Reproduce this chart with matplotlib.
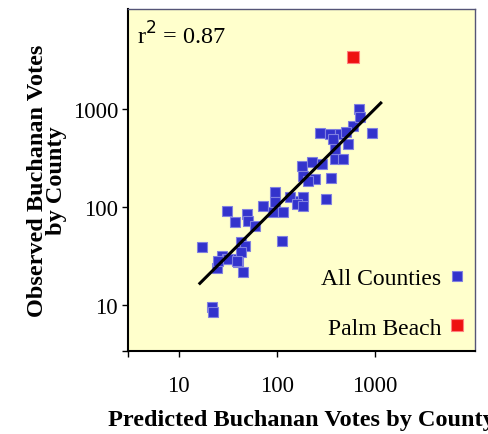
import matplotlib
matplotlib.use("Agg")
import matplotlib.pyplot as plt

# Florida counties: predicted vs observed Buchanan votes
predicted = [17.2, 21.6, 22.1, 24.3, 27.3, 30.7, 35.8, 40.3, 45.3, 43.6,
             47.1, 43.6, 31.1, 37.2, 49.1, 51.0, 59.7, 72.5, 95.4, 95.4,
             91.7, 116, 114, 136, 172, 185, 179, 226, 185, 244,
             286, 314, 353, 391, 468, 391, 275, 347, 440, 534,
             601, 692, 703, 931, 375, 25.2, 31.8, 161, 38.8, 207,
             514, 185]
observed = [38.8, 9.5, 8.4, 23.7, 31.8, 29.4, 29.4, 27.3, 21.9, 43.6,
            40.3, 34.5, 91, 70.8, 84.9, 72.5, 64.4, 103, 141, 112,
            88.3, 88.3, 45.3, 126, 116, 126, 264, 286, 208, 193,
            275, 121, 196, 309, 309, 391, 569, 556, 556, 440,
            676, 1000, 822, 565, 494, 28.3, 29.4, 107, 28.3, 185,
            578, 103]

palm_pred = [601]
palm_obs = [3407]

fit_x = [16.4, 1150]
fit_y = [16.6, 1150]

serif = "Liberation Serif"

fig = plt.figure(figsize=(4.88, 4.35), dpi=100)
ax = fig.add_axes([0.262, 0.191, 0.711, 0.786])
ax.set_facecolor("#ffffcc")

ax.plot(predicted, observed, "s", ms=7.5, color="#3333cc",
        mec="#8080e0", mew=0.8, label="All Counties", zorder=3)
ax.plot(palm_pred, palm_obs, "s", ms=8.5, color="#ee1111",
        mec="#ff8080", mew=0.8, label="Palm Beach", zorder=3)
ax.plot(fit_x, fit_y, color="black", lw=2.2, zorder=4)

ax.set_xscale("log")
ax.set_yscale("log")
ax.set_xlim(3.02, 10480)
ax.set_ylim(3.39, 10480)

ax.set_xticks([3.02, 10, 100, 1000])
ax.set_xticklabels(["", "10", "100", "1000"])
ax.set_yticks([3.39, 10, 100, 1000])
ax.set_yticklabels(["", "10", "100", "1000"])
ax.minorticks_off()
ax.tick_params(axis="x", length=4, width=1, pad=13, labelsize=16.5)
ax.tick_params(axis="y", length=4, width=1, pad=3, labelsize=16.5)
for lab in ax.get_xticklabels() + ax.get_yticklabels():
    lab.set_fontfamily(serif)

ax.spines["left"].set_color("black")
ax.spines["left"].set_linewidth(1.5)
ax.spines["bottom"].set_color("black")
ax.spines["bottom"].set_linewidth(1.5)
for s in ["top", "right"]:
    ax.spines[s].set_color("#555577")
    ax.spines[s].set_linewidth(1.0)

ax.text(0.025, 0.965, r"r$^2$ = 0.87", transform=ax.transAxes,
        fontsize=17.5, family=serif, va="top", ha="left")

# x label is wider than the figure, clipped at the right edge like the original
ax.set_xlabel("Predicted Buchanan Votes by County", fontsize=17.5,
              family=serif, fontweight="bold", labelpad=10)
ax.set_ylabel("Observed Buchanan Votes\nby County", fontsize=17.5,
              family=serif, fontweight="bold", labelpad=4, linespacing=0.9)

leg = ax.legend(loc="lower right", frameon=False, markerfirst=False,
                prop={"family": serif, "size": 17}, handlelength=0.5,
                handletextpad=0.4, labelspacing=1.2, borderaxespad=0.12)

fig.savefig("out.png", dpi=100)
